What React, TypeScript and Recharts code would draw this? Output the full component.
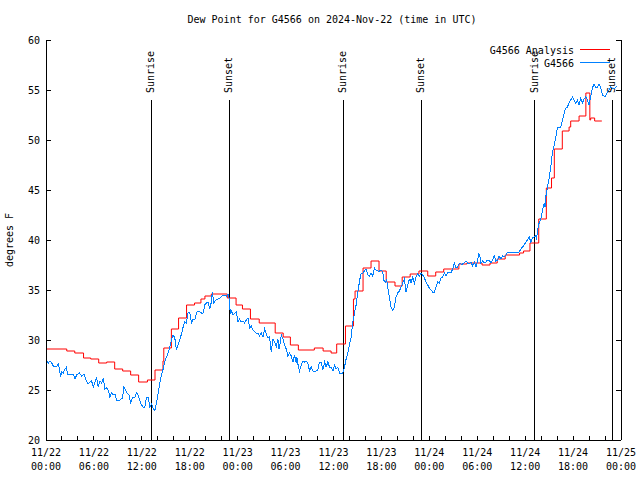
import React from 'react';
import { LineChart, Line, XAxis, YAxis, ReferenceLine, Legend } from 'recharts';

const TITLE = 'Dew Point for G4566 on 2024-Nov-22 (time in UTC)';
const Y_LABEL = 'degrees F';
const ANALYSIS_NAME = 'G4566 Analysis';
const OBS_NAME = 'G4566';
const SERIES_ORDER = [ANALYSIS_NAME, OBS_NAME];
const FONT = '"DejaVu Sans Mono", "Liberation Mono", monospace';

// x ticks every 2 hours, labels every 6 hours
const xTickHours = [0, 2, 4, 6, 8, 10, 12, 14, 16, 18, 20, 22, 24, 26, 28, 30, 32, 34, 36, 38, 40, 42, 44, 46, 48, 50, 52, 54, 56, 58, 60, 62, 64, 66, 68, 70, 72];
const xLabelDays = ['11/22', '11/22', '11/22', '11/22', '11/23', '11/23', '11/23', '11/23', '11/24', '11/24', '11/24', '11/24', '11/25'];
const xLabelTimes = ['00:00', '06:00', '12:00', '18:00', '00:00', '06:00', '12:00', '18:00', '00:00', '06:00', '12:00', '18:00', '00:00'];
const yTicks = [20, 25, 30, 35, 40, 45, 50, 55, 60];

const sunEventHours = [13.15, 22.93, 37.2, 46.96, 61.23, 70.9];
const sunEventLabels = ['Sunrise', 'Sunset', 'Sunrise', 'Sunset', 'Sunrise', 'Sunset'];
const sunLineBottom = 20;
const sunLineTop = 54;

// G4566 Analysis (hours since 11/22 00:00 UTC, stepwise)
const analysisHours = [0, 2.6, 3.6, 4.7, 5.6, 6.6, 7.6, 8.6, 9.6, 10.6, 11.6, 12.7, 13.65, 14.65, 14.75, 15.7, 16.6, 17.6, 18.6, 19.4, 19.9, 20.7, 22.7, 23.8, 24.6, 25.6, 26.7, 28.7, 29.7, 30.6, 31.6, 33.6, 34.7, 35.7, 36.4, 37.5, 38.5, 38.7, 39.7, 40.7, 41.7, 42.6, 43.7, 44.6, 45.6, 46.7, 47.8, 48.8, 49.8, 51.7, 52.7, 54.6, 55.6, 56.5, 57.5, 59.3, 59.8, 60.6, 61.7, 62.65, 63.3, 63.65, 64.65, 65.5, 65.7, 66.75, 67.6, 68.1, 68.2, 68.7, 69.6];
const analysisValues = [29.1, 28.9, 28.7, 28.2, 28.1, 27.7, 27.8, 27.1, 26.9, 26.5, 25.8, 26.0, 27.0, 27.9, 29.2, 31.1, 32.2, 33.5, 33.7, 34.1, 34.4, 34.6, 34.2, 33.5, 33.1, 32.1, 31.7, 30.7, 30.3, 29.5, 29.0, 29.2, 28.9, 28.7, 29.6, 31.4, 34.1, 34.9, 37.2, 37.9, 36.9, 35.8, 35.4, 36.3, 36.6, 36.9, 36.4, 36.8, 37.1, 37.6, 37.7, 37.5, 37.7, 38.1, 38.5, 38.7, 38.9, 39.7, 42.1, 45.2, 46.2, 49.1, 50.9, 51.3, 51.9, 52.4, 54.7, 52.0, 52.2, 51.9, 51.9];

// G4566 observations
const obsHours = [
  0.08, 0.29, 0.5, 0.71, 0.92, 1.33, 1.54, 1.67, 1.83, 1.96, 2.17, 2.38, 2.58, 2.67, 3.42, 3.63, 3.83, 4.17, 4.46, 4.75,
  5.0, 5.29, 5.5, 5.71, 5.92, 6.13, 6.33, 6.54, 6.75, 6.96, 7.17, 7.38, 7.58, 7.79, 8.0, 8.21, 8.42, 8.63, 8.83, 9.25,
  9.58, 9.75, 10.0, 10.17, 10.42, 10.58, 10.83, 11.13, 11.33, 11.54, 11.75, 11.96, 12.17, 12.38, 12.58, 12.79, 13.0, 13.21, 13.42, 13.63,
  13.83, 14.04, 14.25, 14.46, 14.67, 14.88, 15.08, 15.29, 15.5, 15.71, 15.92, 16.13, 16.33, 16.54, 16.75, 16.96, 17.17, 17.38, 17.58, 17.79,
  18.0, 18.21, 18.42, 18.63, 18.83, 19.04, 19.25, 19.46, 19.67, 19.88, 20.08, 20.29, 20.5, 20.71, 20.83, 21.0, 21.13, 21.33, 21.75, 22.08,
  22.38, 22.58, 22.79, 22.92, 23.08, 23.21, 23.42, 23.63, 23.83, 24.04, 24.25, 24.46, 24.67, 24.88, 25.08, 25.29, 25.5, 25.71, 25.92, 26.13,
  26.33, 26.54, 26.75, 26.96, 27.17, 27.38, 27.58, 27.79, 28.0, 28.21, 28.42, 28.63, 28.83, 29.04, 29.17, 29.33, 29.46, 29.67, 29.88, 30.08,
  30.29, 30.5, 30.71, 30.92, 31.13, 31.33, 31.42, 31.54, 31.75, 31.96, 32.17, 32.38, 32.58, 32.79, 33.0, 33.21, 33.42, 33.83, 34.04, 34.25,
  34.46, 34.67, 34.88, 35.08, 35.29, 35.5, 35.71, 35.92, 36.13, 36.33, 36.54, 36.75, 37.17, 37.38, 37.58, 37.79, 38.0, 38.21, 38.42, 38.63,
  38.83, 39.04, 39.33, 39.46, 39.67, 39.88, 40.08, 40.29, 40.5, 40.71, 40.92, 41.13, 41.33, 41.54, 41.75, 41.96, 42.17, 42.29, 42.5, 42.67,
  42.79, 43.0, 43.21, 43.42, 43.63, 43.83, 44.04, 44.25, 44.46, 44.67, 44.88, 45.08, 45.29, 45.42, 45.58, 45.71, 45.92, 46.13, 46.33, 46.54,
  46.75, 46.96, 47.17, 47.38, 47.58, 47.79, 48.0, 48.21, 48.42, 48.63, 48.83, 49.04, 49.25, 49.46, 49.67, 49.88, 50.08, 50.29, 50.5, 50.71,
  50.92, 51.13, 51.33, 51.54, 51.75, 51.96, 52.17, 52.38, 52.58, 52.79, 53.0, 53.21, 53.42, 53.63, 53.83, 54.04, 54.17, 54.33, 54.46, 54.67,
  54.88, 55.08, 55.29, 55.5, 55.71, 55.92, 56.13, 56.33, 56.54, 56.75, 56.96, 57.17, 57.38, 57.58, 57.79, 58.0, 58.83, 59.25, 59.46, 59.67,
  59.88, 60.08, 60.29, 60.5, 60.71, 60.92, 61.13, 61.33, 61.42, 61.54, 61.75, 61.96, 62.17, 62.38, 62.5, 62.58, 62.79, 63.0, 63.21, 63.42,
  63.63, 63.83, 64.04, 64.25, 64.46, 64.67, 64.88, 65.08, 65.29, 65.5, 65.71, 65.92, 66.13, 66.33, 66.54, 66.75, 66.96, 67.17, 67.38, 67.58,
  67.79, 68.0, 68.21, 68.42, 68.63, 68.83, 69.04, 69.25, 69.46, 69.67, 69.88, 70.08, 70.29, 70.5, 70.71, 71.1, 71.5,
];
const obsValues = [
  28.0, 27.7, 27.9, 27.7, 27.4, 27.3, 27.6, 27.1, 26.3, 26.8, 26.7, 27.1, 27.3, 26.6, 26.6, 26.1, 26.5, 26.7, 26.4, 26.6,
  26.0, 25.6, 25.8, 25.9, 25.3, 25.8, 26.2, 25.3, 25.9, 25.7, 26.2, 25.1, 25.2, 25.0, 24.3, 24.7, 24.5, 24.6, 24.0, 24.0,
  24.2, 25.3, 24.9, 24.7, 24.5, 23.7, 24.2, 24.3, 24.7, 24.5, 23.9, 23.5, 23.3, 23.3, 24.3, 24.3, 23.3, 23.6, 23.2, 22.9,
  23.7, 24.7, 25.7, 26.5, 27.1, 27.8, 28.3, 28.7, 29.3, 30.0, 30.5, 30.2, 29.0, 29.5, 30.0, 30.6, 31.3, 31.8, 31.7, 32.7,
  32.8, 31.7, 32.1, 32.0, 32.7, 32.9, 32.8, 32.7, 32.7, 33.5, 33.7, 33.8, 33.1, 33.8, 34.8, 33.7, 33.9, 34.0, 34.2, 34.4,
  34.5, 34.4, 34.6, 34.2, 32.7, 32.9, 32.5, 32.7, 32.8, 31.8, 32.1, 31.8, 31.9, 31.7, 32.0, 32.2, 31.2, 31.4, 31.0, 30.8,
  30.7, 30.7, 30.4, 30.7, 30.3, 31.1, 30.6, 30.2, 30.3, 28.8, 30.1, 29.8, 29.3, 30.1, 29.1, 29.7, 30.5, 30.1, 29.5, 29.1,
  28.4, 28.7, 28.4, 27.8, 28.5, 27.7, 28.3, 27.6, 26.9, 27.5, 27.9, 27.8, 27.9, 27.7, 26.9, 27.3, 26.9, 26.9, 27.0, 27.8,
  27.8, 27.0, 27.8, 27.3, 27.8, 27.3, 27.3, 26.9, 27.5, 27.1, 27.3, 26.7, 26.7, 27.3, 28.1, 28.7, 29.5, 30.3, 31.8, 32.7,
  33.5, 34.8, 36.2, 36.7, 36.7, 36.9, 37.1, 36.5, 36.4, 36.7, 36.4, 37.2, 37.0, 36.9, 36.9, 37.0, 36.8, 36.0, 35.8, 36.0,
  35.3, 34.2, 33.3, 33.0, 33.3, 34.3, 34.7, 34.9, 35.3, 35.7, 36.1, 34.8, 35.5, 35.9, 36.1, 35.7, 36.3, 35.7, 36.3, 36.6,
  36.4, 36.7, 36.5, 36.2, 35.8, 35.5, 35.2, 35.0, 34.8, 34.8, 35.3, 35.8, 35.7, 36.2, 36.3, 36.7, 36.4, 36.7, 36.8, 36.7,
  37.1, 37.7, 37.2, 37.3, 37.7, 37.6, 37.6, 37.7, 37.9, 37.7, 37.6, 37.8, 37.4, 37.8, 37.3, 37.9, 38.6, 38.4, 37.7, 37.9,
  37.7, 37.8, 38.0, 38.0, 37.7, 38.0, 38.4, 37.9, 38.0, 38.4, 38.1, 38.4, 38.3, 38.5, 38.8, 38.8, 38.8, 38.8, 39.1, 39.3,
  39.5, 39.8, 40.0, 40.3, 39.8, 40.2, 40.3, 40.5, 40.0, 41.0, 41.7, 42.1, 43.0, 43.7, 43.3, 44.3, 45.3, 46.2, 47.3, 48.8,
  49.5, 50.3, 51.2, 51.3, 51.3, 52.0, 52.7, 53.2, 53.3, 53.7, 54.0, 54.3, 54.0, 53.7, 54.0, 53.5, 54.2, 53.7, 54.1, 54.3,
  54.0, 53.5, 54.3, 55.2, 55.6, 55.3, 55.3, 55.6, 55.2, 54.5, 54.4, 54.4, 54.8, 55.0, 55.3, 55.1, 55.4,
];

const analysisData = analysisHours.map((t, i) => ({ t, v: analysisValues[i] }));
const obsData = obsHours.map((t, i) => ({ t, v: obsValues[i] }));

const textStyle = { fontFamily: FONT, fontSize: 10, fill: '#000' };

const BottomTick = (props: any) => {
  const { x, y, payload } = props;
  const idx = payload.value / 6;
  const labeled = Number.isInteger(idx);
  return (
    <g>
      <line x1={x} x2={x} y1={y} y2={y - 4} stroke="#000" shapeRendering="crispEdges" />
      {labeled && (
        <text x={x} y={y + 16} textAnchor="middle" style={textStyle}>{xLabelDays[idx]}</text>
      )}
      {labeled && (
        <text x={x} y={y + 30} textAnchor="middle" style={textStyle}>{xLabelTimes[idx]}</text>
      )}
    </g>
  );
};

const TopTick = (props: any) => {
  const { x, y } = props;
  return <line x1={x} x2={x} y1={y} y2={y + 4} stroke="#000" shapeRendering="crispEdges" />;
};

const LeftTick = (props: any) => {
  const { x, y, payload } = props;
  return (
    <g>
      <line x1={x} x2={x + 5} y1={y} y2={y} stroke="#000" shapeRendering="crispEdges" />
      <text x={x - 6} y={y + 4} textAnchor="end" style={textStyle}>{payload.value}</text>
    </g>
  );
};

const RightTick = (props: any) => {
  const { x, y } = props;
  return <line x1={x} x2={x - 5} y1={y} y2={y} stroke="#000" shapeRendering="crispEdges" />;
};

const YTitle = (props: any) => {
  const vb = props.viewBox || { x: 0, y: 40, width: 46, height: 400 };
  const cx = vb.x + 13;
  const cy = vb.y + vb.height / 2;
  return (
    <text x={cx} y={cy} textAnchor="middle" transform={`rotate(-90, ${cx}, ${cy})`} style={textStyle}>
      {Y_LABEL}
    </text>
  );
};

const SunLabel = (props: any) => {
  const vb = props.viewBox;
  if (!vb) return null;
  const tx = vb.x + 3;
  const ty = vb.y - 7;
  return (
    <text x={tx} y={ty} textAnchor="start" transform={`rotate(-90, ${tx}, ${ty})`} style={textStyle}>
      {props.text}
    </text>
  );
};

const renderLegend = (props: any) => {
  const payload = [...(props.payload || [])].sort(
    (a: any, b: any) => SERIES_ORDER.indexOf(a.value) - SERIES_ORDER.indexOf(b.value)
  );
  return (
    <svg width={640} height={480} style={{ overflow: 'visible', display: 'block' }}>
      <text x={332} y={23} textAnchor="middle" style={textStyle}>{TITLE}</text>
      {payload.map((entry: any, i: number) => (
        <g key={i}>
          <text x={574} y={53.5 + i * 13} textAnchor="end" style={textStyle}>{entry.value}</text>
          <line x1={580} x2={610} y1={49.5 + i * 13} y2={49.5 + i * 13} stroke={entry.color} shapeRendering="crispEdges" />
        </g>
      ))}
    </svg>
  );
};

export default function App() {
  return (
    <div style={{ position: 'absolute', left: 0, top: 0, width: 640, height: 480, background: '#fff' }}>
      <LineChart width={640} height={480} margin={{ top: 40, right: 0, bottom: 0, left: 0 }}>
        <XAxis
          xAxisId="b"
          type="number"
          dataKey="t"
          domain={[0, 72]}
          ticks={xTickHours}
          interval={0}
          height={40}
          tickSize={0}
          tickMargin={0}
          tickLine={false}
          tick={<BottomTick />}
          axisLine={{ stroke: '#000', shapeRendering: 'crispEdges' }}
          allowDataOverflow
        />
        <XAxis
          xAxisId="t"
          orientation="top"
          type="number"
          dataKey="t"
          domain={[0, 72]}
          ticks={xTickHours}
          interval={0}
          height={0}
          tickSize={0}
          tickMargin={0}
          tickLine={false}
          tick={<TopTick />}
          axisLine={{ stroke: '#000', shapeRendering: 'crispEdges' }}
          allowDataOverflow
        />
        <YAxis
          yAxisId="l"
          domain={[20, 60]}
          ticks={yTicks}
          interval={0}
          width={46}
          tickSize={0}
          tickMargin={0}
          tickLine={false}
          tick={<LeftTick />}
          axisLine={{ stroke: '#000', shapeRendering: 'crispEdges' }}
          label={<YTitle />}
          allowDataOverflow
        />
        <YAxis
          yAxisId="r"
          orientation="right"
          domain={[20, 60]}
          ticks={yTicks}
          interval={0}
          width={19}
          tickSize={0}
          tickMargin={0}
          tickLine={false}
          tick={<RightTick />}
          axisLine={{ stroke: '#000', shapeRendering: 'crispEdges' }}
          allowDataOverflow
        />
        {sunEventHours.map((h, i) => (
          <ReferenceLine
            key={i}
            xAxisId="b"
            yAxisId="l"
            segment={[{ x: h, y: sunLineBottom }, { x: h, y: sunLineTop }]}
            stroke="#000"
            strokeWidth={1}
            shapeRendering="crispEdges"
            label={<SunLabel text={sunEventLabels[i]} />}
          />
        ))}
        <Line
          xAxisId="b"
          yAxisId="l"
          data={analysisData}
          dataKey="v"
          name={ANALYSIS_NAME}
          type="stepAfter"
          stroke="#ff0000"
          strokeWidth={1}
          dot={false}
          isAnimationActive={false}
        />
        <Line
          xAxisId="b"
          yAxisId="l"
          data={obsData}
          dataKey="v"
          name={OBS_NAME}
          type="linear"
          stroke="#0080ff"
          strokeWidth={1}
          shapeRendering="crispEdges"
          dot={false}
          isAnimationActive={false}
        />
        <Legend
          content={renderLegend}
          wrapperStyle={{ position: 'absolute', left: 0, top: 0, width: 640, height: 0, overflow: 'visible', pointerEvents: 'none' }}
        />
      </LineChart>
    </div>
  );
}
